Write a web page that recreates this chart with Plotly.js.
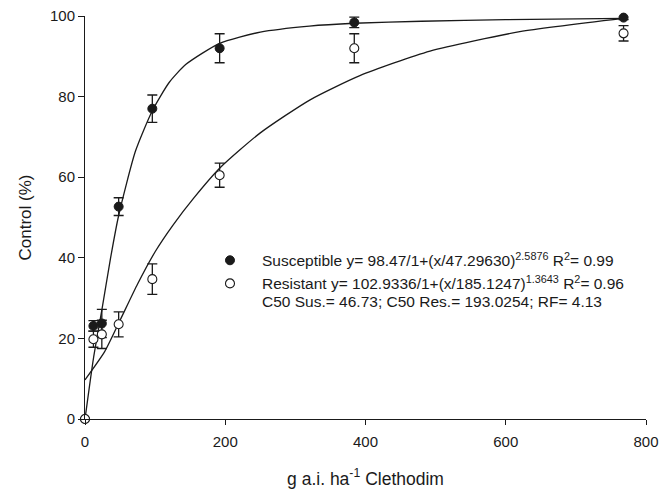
<!DOCTYPE html>
<html>
<head>
<meta charset="utf-8">
<script src="https://cdn.plot.ly/plotly-3.0.1.min.js"></script>
<style>html,body{margin:0;padding:0;background:#fff;}#chart{width:659px;height:492px;}</style>
</head>
<body>
<div id="chart"></div>
<script>
// Doses (g a.i. ha-1)
const doses = [0, 12, 24, 48, 96, 192, 384, 768];
// Susceptible biotype: mean control (%) and error
const susMean = [0, 23.1, 23.7, 52.7, 77.0, 92.0, 98.4, 99.6];
const susErr  = [0, 1.3, 3.5, 2.2, 3.4, 3.6, 1.3, 0.5];
// Resistant biotype: mean control (%) and error
const resMean = [0, 19.8, 21.0, 23.5, 34.7, 60.5, 92.0, 95.7];
const resErr  = [0, 2.0, 3.5, 3.1, 3.8, 3.0, 3.6, 1.9];
// Fitted curves
const susCurveX = [0, 12, 24, 36, 48, 72, 96, 120, 144, 192, 250, 320, 384, 480, 600, 768];
const susCurveY = [0, 15, 27, 39.5, 50.5, 66.5, 76.5, 83.5, 88, 93.2, 96, 97.5, 98.2, 98.7, 99.1, 99.4];
const resCurveX = [0, 28, 50, 75, 100, 125, 155, 193, 250, 321, 392, 492, 620, 768];
const resCurveY = [9.7, 16.7, 24.5, 33.5, 41.5, 48, 54.8, 62.4, 71, 79.2, 85.2, 91.3, 96.1, 99.4];
// Texts
const susLabel = "Susceptible y= 98.47/1+(x/47.29630)<sup>2.5876</sup> R<sup>2</sup>= 0.99";
const resLabel = "Resistant y= 102.9336/1+(x/185.1247)<sup>1.3643</sup> R<sup>2</sup>= 0.96";
const c50Text = "C50 Sus.= 46.73; C50 Res.= 193.0254; RF= 4.13";
const xTitle = "g a.i. ha<sup>-1</sup> Clethodim";
const yTitle = "Control (%)";
const xTicks = [0, 200, 400, 600, 800];
const yTicks = [0, 20, 40, 60, 80, 100];

const ink = '#1a1a1a';
const font = 'Arial, "Liberation Sans", sans-serif';

const traces = [
  {x: susCurveX, y: susCurveY, mode: 'lines', line: {color: ink, width: 1.3, shape: 'spline', smoothing: 0.6}, showlegend: false, hoverinfo: 'skip'},
  {x: resCurveX, y: resCurveY, mode: 'lines', line: {color: ink, width: 1.3, shape: 'spline', smoothing: 0.6}, showlegend: false, hoverinfo: 'skip'},
  {x: doses, y: susMean, name: susLabel, mode: 'markers', cliponaxis: false,
   marker: {symbol: 'circle', size: 9, color: ink, line: {color: ink, width: 1}},
   error_y: {type: 'data', array: susErr, visible: true, color: ink, thickness: 1.3, width: 5}},
  {x: doses, y: resMean, name: resLabel, mode: 'markers', cliponaxis: false,
   marker: {symbol: 'circle', size: 9, color: '#ffffff', line: {color: ink, width: 1.1}},
   error_y: {type: 'data', array: resErr, visible: true, color: ink, thickness: 1.3, width: 5}}
];

const layout = {
  width: 659, height: 492,
  margin: {l: 85, r: 13, t: 16, b: 73},
  paper_bgcolor: '#ffffff', plot_bgcolor: '#ffffff',
  font: {family: font, size: 15, color: ink},
  showlegend: true,
  legend: {x: 0.2014, y: 0.435, xanchor: 'left', yanchor: 'top', bgcolor: 'rgba(0,0,0,0)',
           font: {family: font, size: 15.5, color: ink}, itemwidth: 54, tracegroupgap: 0},
  xaxis: {range: [0, 800], tickvals: xTicks, ticktext: xTicks.map(String), showgrid: false, zeroline: false,
          showline: true, linecolor: ink, linewidth: 1, ticks: 'outside', ticklen: 5, tickwidth: 1, tickcolor: ink,
          ticklabelstandoff: 4,
          tickfont: {family: font, size: 15, color: ink},
          title: {text: xTitle, font: {family: font, size: 17.5, color: ink}, standoff: 23}},
  yaxis: {range: [0, 100], tickvals: yTicks, ticktext: yTicks.map(String), showgrid: false, zeroline: false,
          showline: true, linecolor: ink, linewidth: 1, ticks: 'outside', ticklen: 6, tickwidth: 1, tickcolor: ink,
          tickfont: {family: font, size: 15, color: ink},
          title: {text: yTitle, font: {family: font, size: 17, color: ink}, standoff: 14}},
  annotations: [
    {text: c50Text, xref: 'paper', yref: 'paper', x: 0.312, y: 0.2928, xanchor: 'left', yanchor: 'middle',
     showarrow: false, font: {family: font, size: 15.5, color: ink}}
  ]
};

Plotly.newPlot('chart', traces, layout, {displayModeBar: false, staticPlot: true});
</script>
</body>
</html>
